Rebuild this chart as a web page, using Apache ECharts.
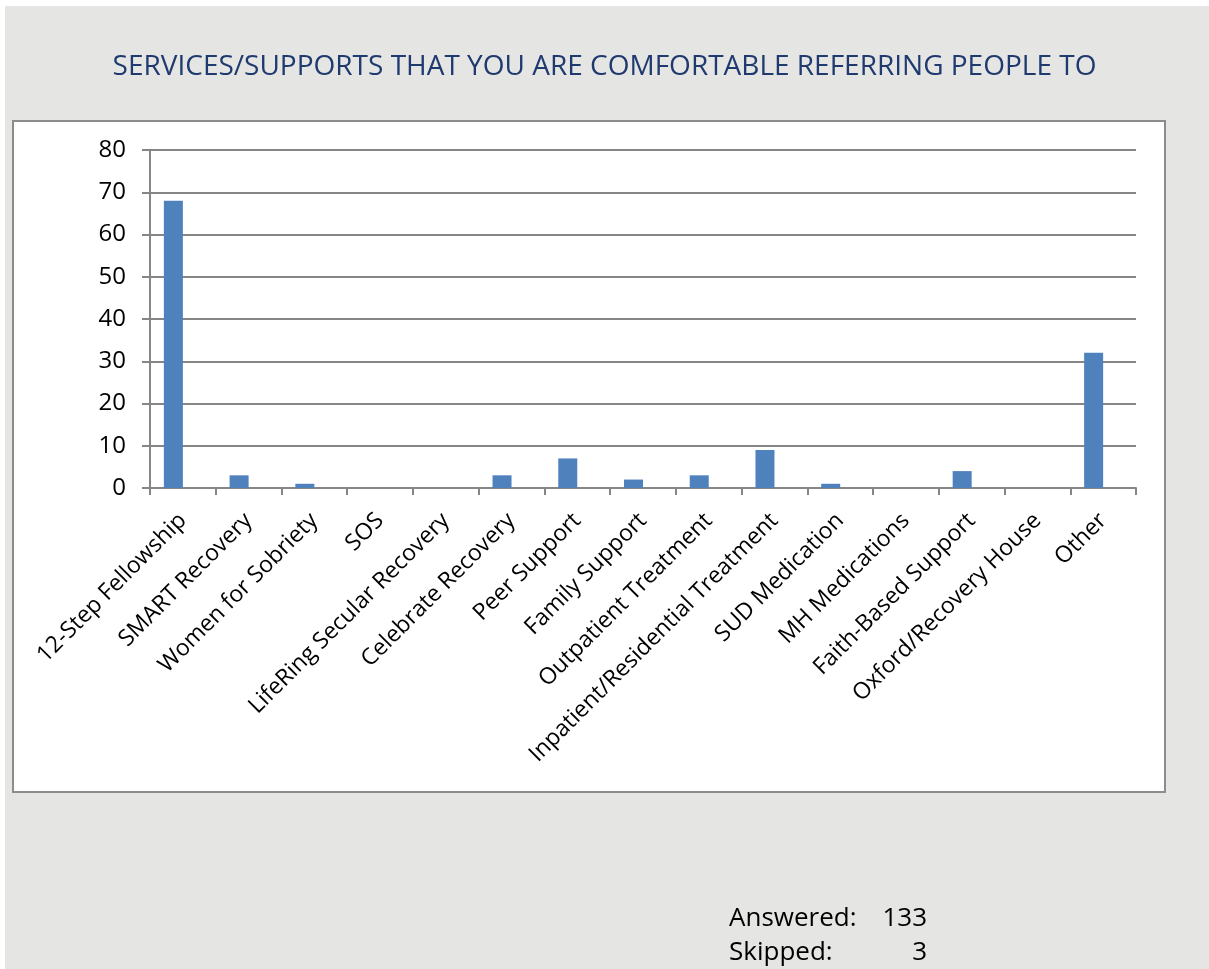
<!DOCTYPE html>
<html>
<head>
<meta charset="utf-8">
<title>Services/Supports referral comfort</title>
<script src="https://cdn.jsdelivr.net/npm/echarts@6/dist/echarts.min.js"></script>
<style>
  html, body { margin: 0; padding: 0; background: #ffffff; }
  #chart { width: 1209px; height: 969px; }
</style>
</head>
<body>
<div id="chart"></div>
<script>
// Survey responses: services/supports respondents are comfortable referring people to
const categories = [
  '12-Step Fellowship', 'SMART Recovery', 'Women for Sobriety', 'SOS',
  'LifeRing Secular Recovery', 'Celebrate Recovery', 'Peer Support',
  'Family Support', 'Outpatient Treatment', 'Inpatient/Residential Treatment',
  'SUD Medication', 'MH Medications', 'Faith-Based Support',
  'Oxford/Recovery House', 'Other'
];
const counts = [68, 3, 1, 0, 0, 3, 7, 2, 3, 9, 1, 0, 4, 0, 32];
// second (unused) column slot, left empty so the count bars sit left of each category centre
const unusedSlot = [];
const yTicks = [0, 10, 20, 30, 40, 50, 60, 70, 80];
const answeredCount = 133;
const skippedCount = 3;
const titleText = 'SERVICES/SUPPORTS THAT YOU ARE COMFORTABLE REFERRING PEOPLE TO';

const FONT = '"Open Sans", "Noto Sans", sans-serif';
const AXIS_GREY = '#868686';

const chart = echarts.init(document.getElementById('chart'), null, { renderer: 'canvas' });

chart.setOption({
  backgroundColor: '#ffffff',
  animation: false,
  title: {
    text: titleText,
    left: 'center',
    top: 48,
    textStyle: { color: '#1f3a6f', fontFamily: FONT, fontSize: 28, fontWeight: 'normal' }
  },
  graphic: [
    // grey page panel
    { type: 'rect', z: -10, silent: true,
      shape: { x: 5, y: 6, width: 1204, height: 963 },
      style: { fill: '#e5e5e4' } },
    // white chart box with grey border
    { type: 'rect', z: -9, silent: true,
      shape: { x: 13, y: 121, width: 1152, height: 671 },
      style: { fill: '#ffffff', stroke: '#8c8c8c', lineWidth: 2 } },
    // response summary
    { type: 'text', z: 10, left: 729, top: 906,
      style: { text: 'Answered:', fontFamily: FONT, fontSize: 26, fill: '#000000' } },
    { type: 'text', z: 10, left: 729, top: 940,
      style: { text: 'Skipped:', fontFamily: FONT, fontSize: 26, fill: '#000000' } },
    { type: 'text', z: 10, right: 1209 - 927, top: 906,
      style: { text: String(answeredCount), fontFamily: FONT, fontSize: 26, fill: '#000000', align: 'right' } },
    { type: 'text', z: 10, right: 1209 - 927, top: 940,
      style: { text: String(skippedCount), fontFamily: FONT, fontSize: 26, fill: '#000000', align: 'right' } }
  ],
  grid: { left: 150, right: 73, top: 150, bottom: 481, containLabel: false },
  xAxis: {
    type: 'category',
    data: categories,
    axisLine: { show: true, lineStyle: { color: AXIS_GREY, width: 2 } },
    axisTick: { show: true, alignWithLabel: false, length: 7, lineStyle: { color: AXIS_GREY, width: 2 } },
    axisLabel: {
      interval: 0, rotate: 45, margin: 29,
      fontFamily: FONT, fontSize: 23, color: '#000000'
    },
    splitLine: { show: false }
  },
  yAxis: {
    type: 'value',
    min: yTicks[0],
    max: yTicks[yTicks.length - 1],
    interval: yTicks[1] - yTicks[0],
    axisLine: { show: true, lineStyle: { color: AXIS_GREY, width: 2 } },
    axisTick: { show: true, length: 8, lineStyle: { color: AXIS_GREY, width: 2 } },
    axisLabel: { margin: 24, fontFamily: FONT, fontSize: 24, color: '#000000' },
    splitLine: { show: true, lineStyle: { color: AXIS_GREY, width: 2 } }
  },
  series: [
    {
      type: 'bar',
      name: 'Responses',
      data: counts,
      barWidth: 19,
      barGap: '0%',
      itemStyle: { color: '#4f81bd' }
    },
    {
      type: 'bar',
      name: 'Unused',
      data: unusedSlot,
      barWidth: 19,
      barGap: '0%'
    }
  ]
});
</script>
</body>
</html>
